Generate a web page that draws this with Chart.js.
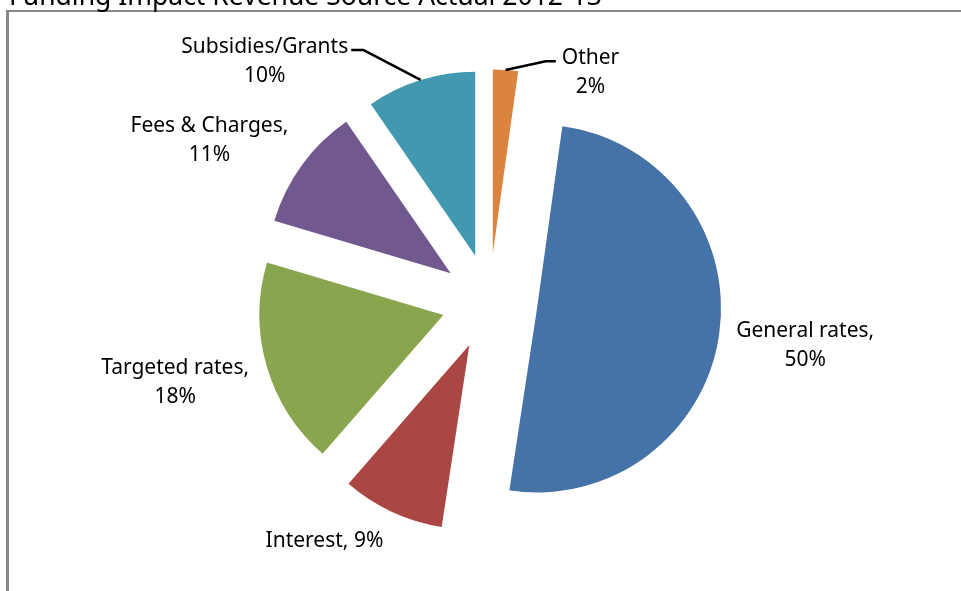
<!DOCTYPE html>
<html>
<head>
<meta charset="utf-8">
<script src="https://cdn.jsdelivr.net/npm/chart.js@4.4.1/dist/chart.umd.min.js"></script>
<style>
html,body{margin:0;padding:0;background:#fff;overflow:hidden}
#wrap{position:relative;width:961px;height:591px}
canvas{display:block}
</style>
</head>
<body>
<div id="wrap"><canvas id="c" width="961" height="591"></canvas></div>
<script>
// ---- data ----
const chartTitle = 'Funding Impact Revenue Source Actual 2012-13';
const categories = ['Other', 'General rates', 'Interest', 'Targeted rates', 'Fees & Charges', 'Subsidies/Grants'];
const values = [2.2, 50.2, 9.0, 18.2, 10.8, 9.6];
// label style: 'break' = name / pct on two lines, 'comma' = "name," / pct, 'inline' = "name, pct"
const labelFormats = ['break', 'comma', 'inline', 'comma', 'comma', 'break'];
const hasLeader = [true, false, false, false, false, true];

// ---- styling / layout (not data) ----
const colors = ['#DB843D', '#4572A7', '#AA4643', '#89A54E', '#71588F', '#4198AF'];
const PIE_R = 184;
const EXPLODE = 48;              // px translation of every slice
const OFFSET = EXPLODE * 4;      // Chart.js arc offset is divided by 4 when drawing
const LABEL_GAP = 135;
const LINE_H = 29;
const FONT = '21px "Noto Sans"';
const CAP = 15;
const labelNudge = [[79, 88], [0, -3], [-31, -51], [-8, -9], [-22, 25], [-130, 63]];

function labelLines(i) {
  const total = values.reduce((a, b) => a + b, 0);
  const pct = Math.round(values[i] / total * 100) + '%';
  const f = labelFormats[i];
  if (f === 'inline') return [categories[i] + ', ' + pct];
  if (f === 'comma') return [categories[i] + ',', pct];
  return [categories[i], pct];
}

// Chart.js enlarges/narrows offset arcs; undo that so the slices are purely translated.
const explodeFix = {
  id: 'explodeFix',
  afterDatasetUpdate(chart, args) {
    args.meta.data.forEach(arc => {
      const off = OFFSET / 4;
      const fix = 1 - Math.sin(Math.min(Math.PI, arc.circumference || 0));
      const ro = off * fix;
      const R = arc.outerRadius;
      arc.outerRadius = R - ro;
      const da = ro / (2 * Math.PI * R);
      arc.startAngle -= da;
      arc.endAngle += da;
    });
  }
};

const frameAndTitle = {
  id: 'frameAndTitle',
  beforeDraw(chart) {
    const ctx = chart.ctx;
    ctx.save();
    ctx.fillStyle = '#fff';
    ctx.fillRect(0, 0, chart.width, chart.height);
    ctx.fillStyle = '#888';
    ctx.fillRect(6, 10, 3, chart.height);
    ctx.fillRect(6, 10, chart.width, 2);
    ctx.fillStyle = '#000';
    ctx.font = '26.5px "Noto Sans"';
    ctx.textAlign = 'left';
    ctx.textBaseline = 'alphabetic';
    ctx.fillText(chartTitle, 9, 5);
    ctx.restore();
  }
};

const sliceLabels = {
  id: 'sliceLabels',
  afterDatasetsDraw(chart) {
    const ctx = chart.ctx;
    const meta = chart.getDatasetMeta(0);
    ctx.save();
    ctx.font = FONT;
    ctx.fillStyle = '#000';
    ctx.textAlign = 'center';
    ctx.textBaseline = 'alphabetic';
    meta.data.forEach((arc, i) => {
      const mid = (arc.startAngle + arc.endAngle) / 2;
      const ux = Math.cos(mid), uy = Math.sin(mid);
      const bx = arc.x + (PIE_R + LABEL_GAP) * ux + labelNudge[i][0];
      const by = arc.y + (PIE_R + LABEL_GAP) * uy + labelNudge[i][1];
      const lines = labelLines(i);
      const n = lines.length;
      const baselines = lines.map((t, k) => by + (k - (n - 1) / 2) * LINE_H + CAP / 2);
      lines.forEach((t, k) => ctx.fillText(t, bx, baselines[k]));
      if (hasLeader[i]) {
        const px = arc.x + (PIE_R + EXPLODE) * ux;
        const py = arc.y + (PIE_R + EXPLODE) * uy;
        const w = ctx.measureText(lines[0]).width;
        const ly = baselines[0] - 3;
        let ex, sx;
        if (bx < px) { sx = bx + w / 2 + 3; ex = sx + 12; }
        else { sx = bx - w / 2 - 6; ex = sx - 10; }
        ctx.beginPath();
        ctx.moveTo(px, py);
        ctx.lineTo(ex, ly);
        ctx.lineTo(sx, ly);
        ctx.strokeStyle = '#000';
        ctx.lineWidth = 2.5;
        ctx.lineJoin = 'round';
        ctx.stroke();
      }
    });
    ctx.restore();
  }
};

new Chart(document.getElementById('c'), {
  type: 'pie',
  data: {
    labels: categories,
    datasets: [{
      data: values,
      backgroundColor: colors,
      borderWidth: 0,
      offset: OFFSET,
      hoverOffset: OFFSET,
      radius: PIE_R
    }]
  },
  options: {
    responsive: false,
    animation: false,
    events: [],
    devicePixelRatio: 1,
    rotation: 0,
    radius: PIE_R,
    layout: { padding: { left: 18, right: 0, top: 12, bottom: 0 } },
    plugins: {
      legend: { display: false },
      tooltip: { enabled: false },
      title: { display: false }
    }
  },
  plugins: [frameAndTitle, explodeFix, sliceLabels]
});
</script>
</body>
</html>
